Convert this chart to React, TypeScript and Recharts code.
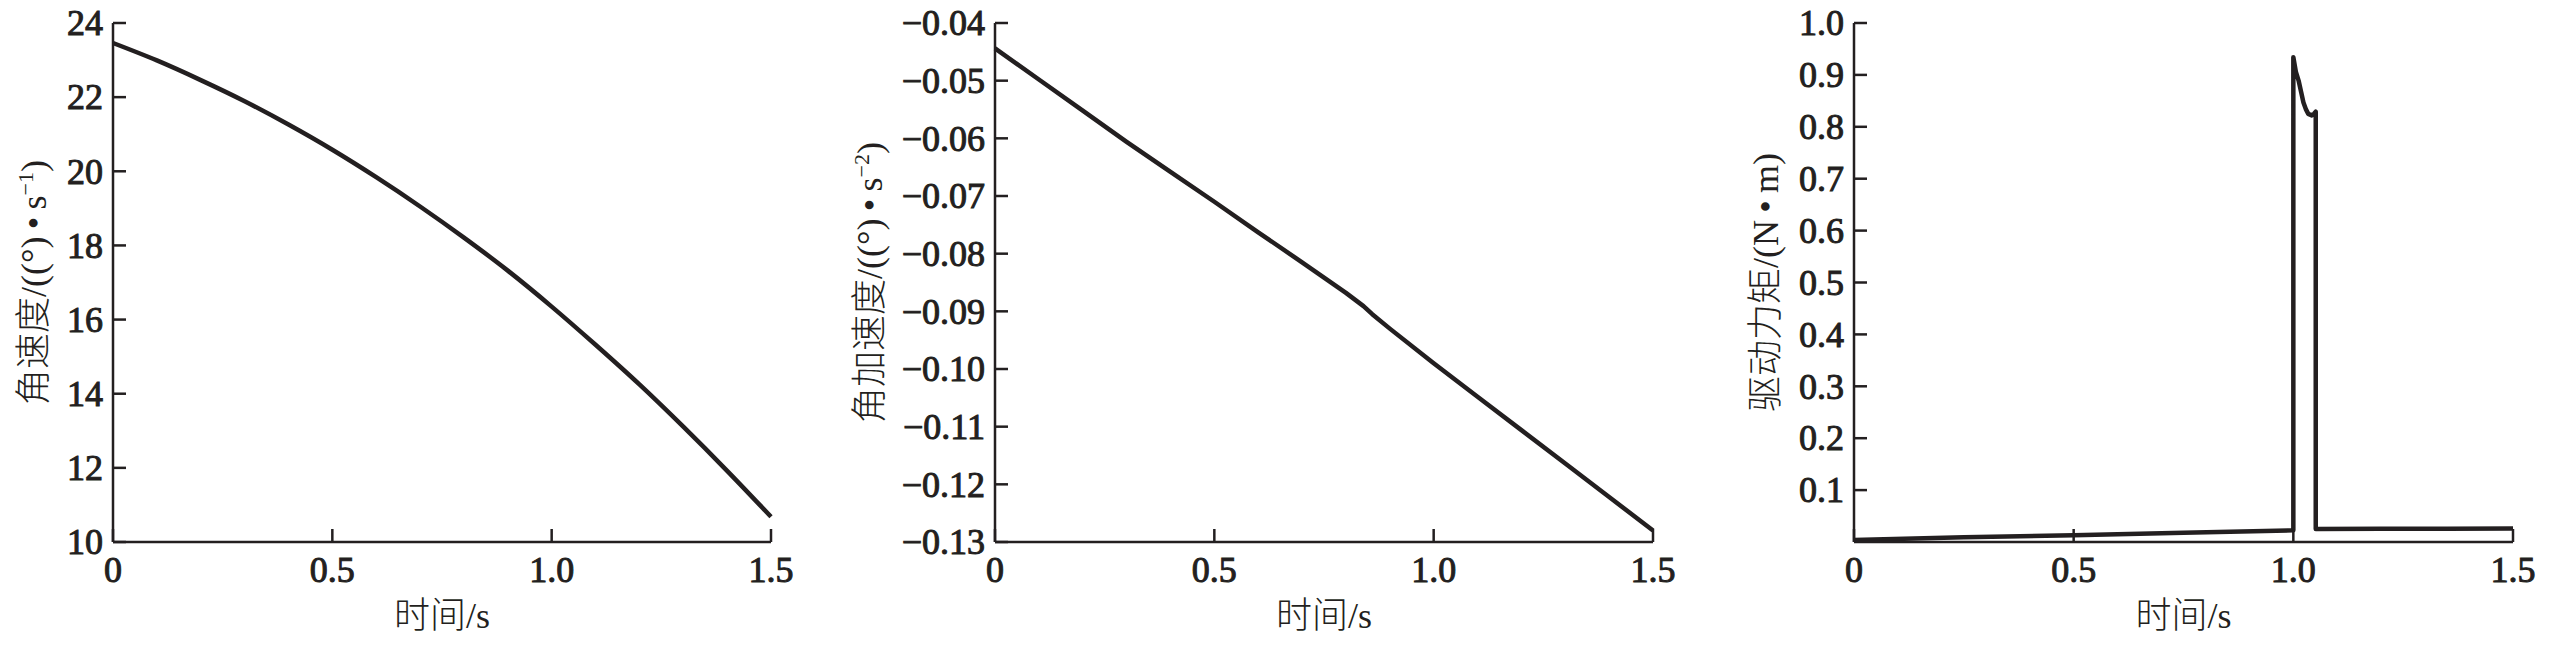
import React from "react";
import { LineChart, Line, XAxis, YAxis, Label } from "recharts";

// 角速度 (°/s)
const omegaTime = [0, 0.1, 0.2, 0.3, 0.4, 0.5, 0.6, 0.7, 0.8, 0.9, 1.0, 1.1, 1.2, 1.3, 1.4, 1.5];
const omegaValues = [23.46, 22.99, 22.46, 21.89, 21.26, 20.58, 19.84, 19.05, 18.21, 17.32, 16.35, 15.32, 14.25, 13.11, 11.92, 10.68];

// 角加速度, second panel (small kink near 0.84 s)
const alphaTime = [0, 0.1, 0.2, 0.3, 0.4, 0.5, 0.6, 0.7, 0.8, 0.84, 0.86, 0.9, 1.0, 1.1, 1.2, 1.3, 1.4, 1.5];
const alphaValues = [-0.0444, -0.0498, -0.0552, -0.0606, -0.0658, -0.071, -0.0763, -0.0815, -0.0868, -0.0891, -0.0905, -0.093, -0.099, -0.1048, -0.1106, -0.1164, -0.1222, -0.128];

// 驱动力矩 (N·m), third panel with the pulse at 1.0–1.05 s
const torqueTime = [0, 0.25, 0.5, 0.75, 1.0, 1.0, 1.006, 1.012, 1.018, 1.023, 1.029, 1.034, 1.042, 1.047, 1.051, 1.051, 1.2, 1.35, 1.5];
const torqueValues = [0.004, 0.009, 0.013, 0.018, 0.0224, 0.934, 0.905, 0.889, 0.866, 0.847, 0.833, 0.825, 0.822, 0.825, 0.829, 0.025, 0.0254, 0.0257, 0.026];

const timeTicks = [0, 0.5, 1.0, 1.5];
const omegaTicks = [10, 12, 14, 16, 18, 20, 22, 24];
const alphaTicks = [-0.13, -0.12, -0.11, -0.1, -0.09, -0.08, -0.07, -0.06, -0.05, -0.04];
const torqueTicks = [0.1, 0.2, 0.3, 0.4, 0.5, 0.6, 0.7, 0.8, 0.9, 1.0];

const xTitle = "时间/s";

const INK = "#231f20";
const FONT = "Liberation Serif, Times New Roman, DejaVu Serif, serif";
const CJK = "Noto Sans CJK SC";
const FS = 36;

const toRows = (ts: number[], vs: number[]) => ts.map((t, i) => ({ t, v: vs[i] }));

const fmtTime = (v: number) => (v === 0 ? "0" : v.toFixed(1));
const fmtInt = (v: number) => String(v);
const fmtAlpha = (v: number) => v.toFixed(2).replace("-", "\u2212");
const fmtTorque = (v: number) => v.toFixed(1);

// split a title into CJK / latin runs so each gets its own font
function runs(s: string) {
  const out: { cjk: boolean; s: string }[] = [];
  for (const ch of s) {
    const cjk = /[\u4e00-\u9fff]/.test(ch);
    const last = out[out.length - 1];
    if (last && last.cjk === cjk) last.s += ch;
    else out.push({ cjk, s: ch });
  }
  return out.map((r, i) => (
    <tspan key={i} style={{ fontFamily: r.cjk ? CJK : FONT }} fontWeight={r.cjk ? 300 : 400}>
      {r.s}
    </tspan>
  ));
}

function YTick(props: any) {
  const { x, y, payload, fmt } = props;
  return (
    <g>
      <line x1={x} y1={y} x2={x + 13} y2={y} stroke={INK} strokeWidth={2.5} />
      <text
        x={x - 10}
        y={y}
        dy="0.34em"
        textAnchor="end"
        style={{ fontFamily: FONT }}
        fontSize={FS}
        fill={INK}
        stroke={INK}
        strokeWidth={1}
      >
        {fmt(payload.value)}
      </text>
    </g>
  );
}

function XTick(props: any) {
  const { x, y, payload } = props;
  return (
    <g>
      <line x1={x} y1={y} x2={x} y2={y - 13} stroke={INK} strokeWidth={2.5} />
      <text
        x={x}
        y={y + 40}
        textAnchor="middle"
        style={{ fontFamily: FONT }}
        fontSize={FS}
        fill={INK}
        stroke={INK}
        strokeWidth={1}
      >
        {fmtTime(payload.value)}
      </text>
    </g>
  );
}

function XTitle(props: any) {
  const vb = props.viewBox || {};
  return (
    <text x={vb.x + vb.width / 2} y={vb.y + 86} textAnchor="middle" fontSize={FS} fill={INK}>
      {runs(xTitle)}
    </text>
  );
}

function YTitle(props: any) {
  const { viewBox, gap, main, sup, tail } = props;
  const cx = viewBox.x + viewBox.width - gap;
  const cy = viewBox.y + viewBox.height / 2;
  return (
    <text
      x={cx}
      y={cy}
      transform={`rotate(-90 ${cx} ${cy})`}
      textAnchor="middle"
      fontSize={FS}
      fill={INK}
    >
      {runs(main)}
      {sup ? (
        <tspan dy={-13} fontSize={22} style={{ fontFamily: FONT }}>
          {sup}
        </tspan>
      ) : null}
      <tspan dy={sup ? 13 : 0} style={{ fontFamily: FONT }}>
        {tail}
      </tspan>
    </text>
  );
}

type PanelProps = {
  left: number;
  width: number;
  axisWidth: number;
  rightPad: number;
  rows: { t: number; v: number }[];
  domain: [number, number];
  ticks: number[];
  fmt: (v: number) => string;
  gap: number;
  main: string;
  sup?: string;
  tail: string;
  curve: "linear" | "monotone";
};

function Panel(p: PanelProps) {
  return (
    <div style={{ position: "absolute", left: p.left, top: 0 }}>
      <LineChart width={p.width} height={646} data={p.rows} margin={{ top: 23, right: p.rightPad, bottom: 0, left: 0 }}>
        <XAxis
          dataKey="t"
          type="number"
          domain={[0, 1.5]}
          ticks={timeTicks}
          interval={0}
          height={104}
          tickSize={0}
          tickMargin={0}
          tickLine={false}
          axisLine={{ stroke: INK, strokeWidth: 2.5 }}
          tick={<XTick />}
        >
          <Label content={<XTitle />} />
        </XAxis>
        <YAxis
          type="number"
          domain={p.domain}
          ticks={p.ticks}
          interval={0}
          width={p.axisWidth}
          tickSize={0}
          tickMargin={0}
          tickLine={false}
          axisLine={{ stroke: INK, strokeWidth: 2.5 }}
          tick={<YTick fmt={p.fmt} />}
        >
          <Label content={<YTitle gap={p.gap} main={p.main} sup={p.sup} tail={p.tail} />} />
        </YAxis>
        <Line
          dataKey="v"
          type={p.curve}
          stroke={INK}
          strokeWidth={4.5}
          strokeLinejoin="round"
          dot={false}
          isAnimationActive={false}
        />
      </LineChart>
    </div>
  );
}

export default function App() {
  return (
    <div style={{ position: "absolute", left: 0, top: 0, width: 2551, height: 646, background: "#fff" }}>
      <Panel
        left={0}
        width={820}
        axisWidth={113}
        rightPad={49}
        rows={toRows(omegaTime, omegaValues)}
        domain={[10, 24]}
        ticks={omegaTicks}
        fmt={fmtInt}
        gap={67}
        main={"角速度/((°)\u2009•\u2009s"}
        sup={"\u22121"}
        tail=")"
        curve="monotone"
      />
      <Panel
        left={820}
        width={880}
        axisWidth={175}
        rightPad={47}
        rows={toRows(alphaTime, alphaValues)}
        domain={[-0.13, -0.04]}
        ticks={alphaTicks}
        fmt={fmtAlpha}
        gap={113}
        main={"角加速度/((°)\u2009•\u2009s"}
        sup={"\u22122"}
        tail=")"
        curve="linear"
      />
      <Panel
        left={1700}
        width={851}
        axisWidth={154}
        rightPad={38}
        rows={toRows(torqueTime, torqueValues)}
        domain={[0, 1]}
        ticks={torqueTicks}
        fmt={fmtTorque}
        gap={76}
        main={"驱动力矩/(N\u2009•\u2009m)"}
        tail=""
        curve="linear"
      />
    </div>
  );
}
